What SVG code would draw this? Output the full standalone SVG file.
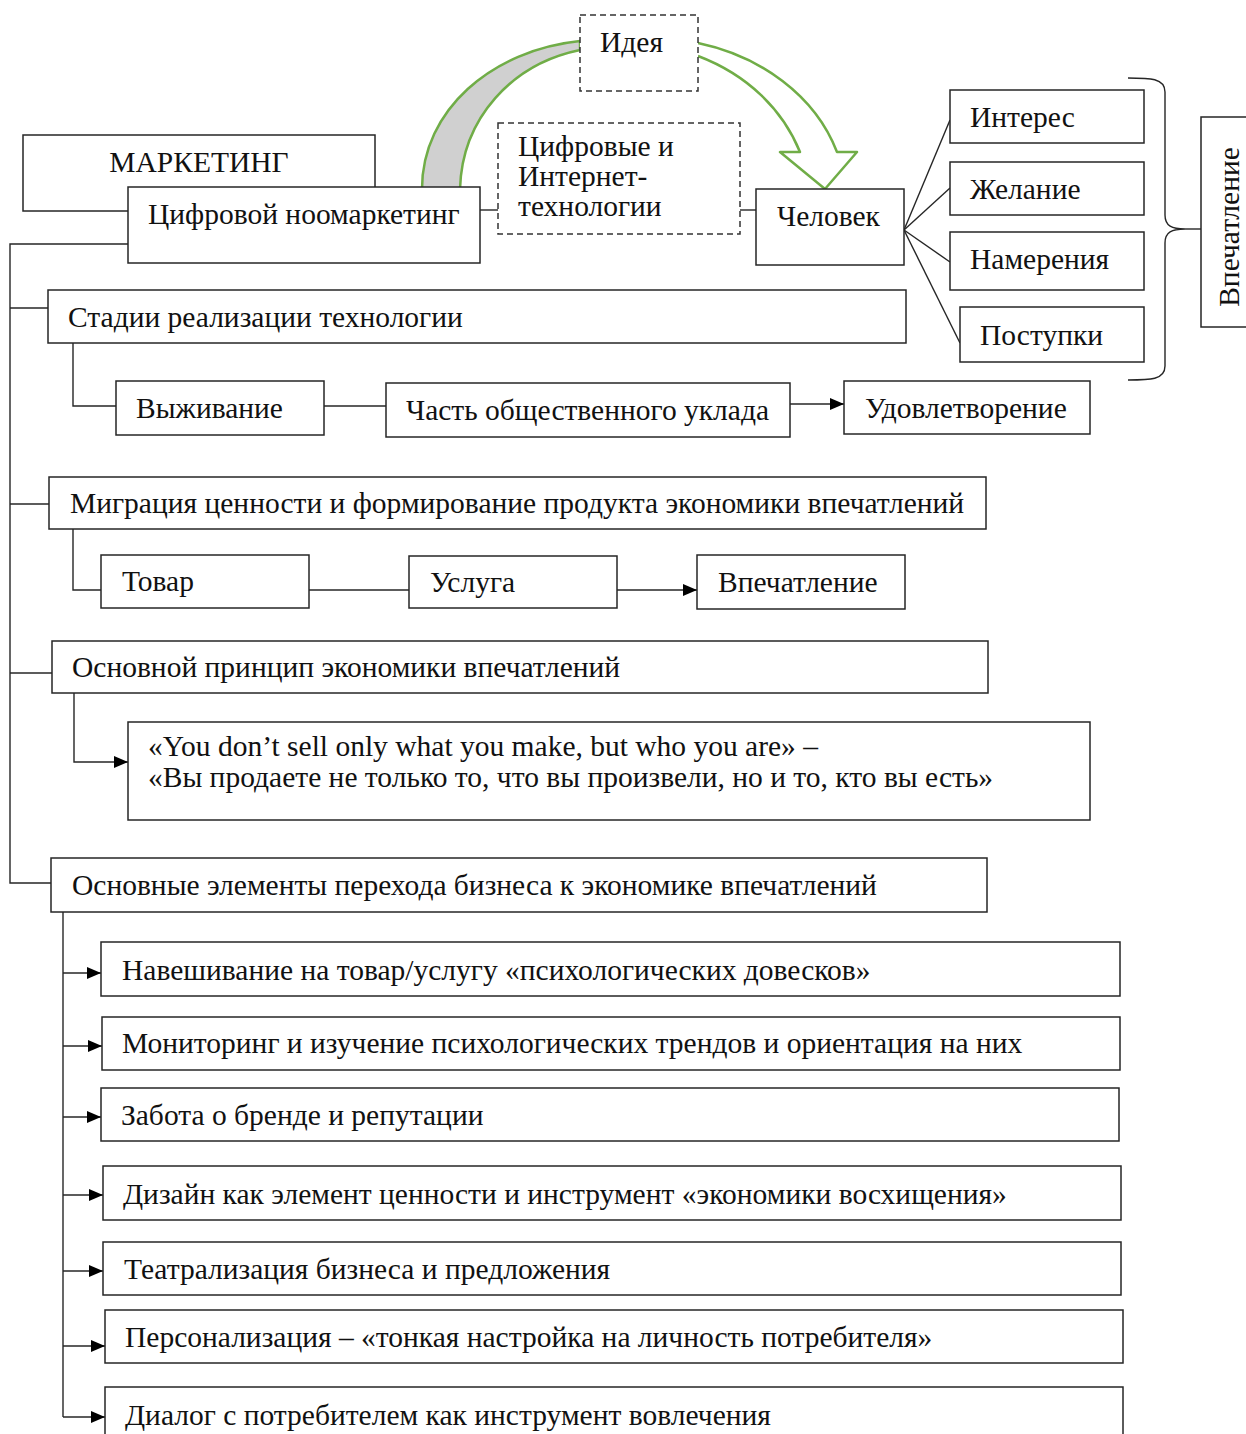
<svg xmlns="http://www.w3.org/2000/svg" width="1246" height="1434" viewBox="0 0 1246 1434">
  <style>
    .box { fill: #ffffff; stroke: #262626; stroke-width: 1.5; }
    .dash { fill: #ffffff; stroke: #333333; stroke-width: 1.5; stroke-dasharray: 6 4; }
    .ln { fill: none; stroke: #262626; stroke-width: 1.4; }
    .arr { fill: none; stroke: #262626; stroke-width: 1.4; marker-end: url(#head); }
    .t { font-family: "Liberation Serif", "Times New Roman", serif; font-size: 29.5px; fill: #111111; }
    .green { stroke: #70ad47; stroke-width: 2.5; stroke-linejoin: round; }
  </style>
  <defs>
    <marker id="head" viewBox="0 0 14 12" refX="14" refY="6" markerWidth="14" markerHeight="12" markerUnits="userSpaceOnUse" orient="auto">
      <path d="M0,0 L14,6 L0,12 z" fill="#000000"/>
    </marker>
  </defs>
  <rect width="1246" height="1434" fill="#ffffff"/>

  <!-- connectors -->
  <g id="connectors">
    <!-- main trunk -->
    <polyline class="ln" points="128,244 10,244 10,883 51,883"/>
    <line class="ln" x1="10" y1="308" x2="48" y2="308"/>
    <line class="ln" x1="10" y1="504" x2="49" y2="504"/>
    <line class="ln" x1="10" y1="673" x2="52" y2="673"/>
    <!-- top row links -->
    <line class="ln" x1="480" y1="210" x2="498" y2="210"/>
    <line class="ln" x1="740" y1="210" x2="756" y2="210"/>
    <!-- fan to motives -->
    <line class="ln" x1="904" y1="230" x2="950" y2="120"/>
    <line class="ln" x1="904" y1="230" x2="950" y2="188"/>
    <line class="ln" x1="904" y1="230" x2="950" y2="262"/>
    <line class="ln" x1="904" y1="230" x2="960" y2="343"/>
    <!-- brace -->
    <path class="ln" d="M1128,78 C1150,78 1165,78 1165,92 L1165,215 C1165,226 1172,229 1185,229 C1172,229 1165,232 1165,243 L1165,366 C1165,380 1150,380 1128,380"/>
    <line class="ln" x1="1185" y1="229" x2="1201" y2="229"/>
    <!-- stages -->
    <polyline class="ln" points="73,343 73,406 116,406"/>
    <line class="ln" x1="324" y1="406" x2="386" y2="406"/>
    <line class="arr" x1="790" y1="404" x2="844" y2="404"/>
    <!-- value migration -->
    <polyline class="ln" points="73,529 73,590 101,590"/>
    <line class="ln" x1="309" y1="590" x2="409" y2="590"/>
    <line class="arr" x1="617" y1="590" x2="697" y2="590"/>
    <!-- principle -->
    <polyline class="arr" points="74,693 74,762 128,762"/>
    <!-- elements -->
    <line class="ln" x1="63" y1="912" x2="63" y2="1417"/>
    <line class="arr" x1="63" y1="973" x2="101" y2="973"/>
    <line class="arr" x1="63" y1="1046" x2="102" y2="1046"/>
    <line class="arr" x1="63" y1="1117" x2="101" y2="1117"/>
    <line class="arr" x1="63" y1="1195" x2="103" y2="1195"/>
    <line class="arr" x1="63" y1="1271" x2="103" y2="1271"/>
    <line class="arr" x1="63" y1="1346" x2="105" y2="1346"/>
    <line class="arr" x1="63" y1="1417" x2="105" y2="1417"/>
  </g>

  <!-- idea flows -->
  <g id="flow-in">
    <path class="green" fill="#d0d0d0" d="M422,189 C422,110 492,50 580,41 L580,50 C512,64 462,118 460,189 Z"/>
  </g>
  <g id="flow-out">
    <path class="green" fill="none" d="M698,43 C760,56 815,95 837,152 L857,152 L825,189 L780,152 L800,152 C783,110 748,75 698,56"/>
  </g>

  <g id="marketing">
    <rect class="box" x="23" y="135" width="352" height="76"/>
    <text class="t" x="199" y="172" text-anchor="middle">МАРКЕТИНГ</text>
  </g>
  <g id="noomarketing">
    <rect class="box" x="128" y="187" width="352" height="76"/>
    <text class="t" x="148" y="224">Цифровой ноомаркетинг</text>
  </g>
  <g id="idea">
    <rect class="dash" x="580" y="15" width="118" height="76"/>
    <text class="t" x="600" y="52">Идея</text>
  </g>
  <g id="digital">
    <rect class="dash" x="498" y="123" width="242" height="111"/>
    <text class="t" x="518" y="156">Цифровые и</text>
    <text class="t" x="518" y="186">Интернет-</text>
    <text class="t" x="518" y="216">технологии</text>
  </g>
  <g id="person">
    <rect class="box" x="756" y="189" width="148" height="76"/>
    <text class="t" x="777" y="226">Человек</text>
  </g>
  <g id="interest">
    <rect class="box" x="950" y="90" width="194" height="53"/>
    <text class="t" x="970" y="127">Интерес</text>
  </g>
  <g id="desire">
    <rect class="box" x="950" y="162" width="194" height="53"/>
    <text class="t" x="970" y="199">Желание</text>
  </g>
  <g id="intention">
    <rect class="box" x="950" y="232" width="194" height="58"/>
    <text class="t" x="970" y="269">Намерения</text>
  </g>
  <g id="actions">
    <rect class="box" x="960" y="307" width="184" height="55"/>
    <text class="t" x="980" y="345">Поступки</text>
  </g>
  <g id="impression-side">
    <rect class="box" x="1201" y="117" width="60" height="210"/>
    <text class="t" x="0" y="0" text-anchor="middle" transform="translate(1239,227) rotate(-90)">Впечатление</text>
  </g>

  <g id="stages">
    <rect class="box" x="48" y="290" width="858" height="53"/>
    <text class="t" x="68" y="327">Стадии реализации технологии</text>
  </g>
  <g id="survival">
    <rect class="box" x="116" y="381" width="208" height="54"/>
    <text class="t" x="136" y="418">Выживание</text>
  </g>
  <g id="social">
    <rect class="box" x="386" y="383" width="404" height="54"/>
    <text class="t" x="406" y="420">Часть общественного уклада</text>
  </g>
  <g id="satisfaction">
    <rect class="box" x="844" y="381" width="246" height="53"/>
    <text class="t" x="865" y="418">Удовлетворение</text>
  </g>

  <g id="migration">
    <rect class="box" x="49" y="477" width="937" height="52"/>
    <text class="t" x="70" y="513">Миграция ценности и формирование продукта экономики впечатлений</text>
  </g>
  <g id="goods">
    <rect class="box" x="101" y="555" width="208" height="53"/>
    <text class="t" x="122" y="591">Товар</text>
  </g>
  <g id="service">
    <rect class="box" x="409" y="556" width="208" height="52"/>
    <text class="t" x="430" y="592">Услуга</text>
  </g>
  <g id="impression">
    <rect class="box" x="697" y="555" width="208" height="54"/>
    <text class="t" x="718" y="592">Впечатление</text>
  </g>

  <g id="principle">
    <rect class="box" x="52" y="641" width="936" height="52"/>
    <text class="t" x="72" y="677">Основной принцип экономики впечатлений</text>
  </g>
  <g id="quote">
    <rect class="box" x="128" y="722" width="962" height="98"/>
    <text class="t" x="148" y="756">«You don’t sell only what you make, but who you are» –</text>
    <text class="t" x="148" y="787">«Вы продаете не только то, что вы произвели, но и то, кто вы есть»</text>
  </g>

  <g id="elements">
    <rect class="box" x="51" y="858" width="936" height="54"/>
    <text class="t" x="72" y="895">Основные элементы перехода бизнеса к экономике впечатлений</text>
  </g>
  <g id="el-1">
    <rect class="box" x="101" y="942" width="1019" height="54"/>
    <text class="t" x="122" y="980">Навешивание на товар/услугу «психологических довесков»</text>
  </g>
  <g id="el-2">
    <rect class="box" x="102" y="1017" width="1018" height="53"/>
    <text class="t" x="122" y="1053">Мониторинг и изучение психологических трендов и ориентация на них</text>
  </g>
  <g id="el-3">
    <rect class="box" x="101" y="1088" width="1018" height="53"/>
    <text class="t" x="121" y="1125">Забота о бренде и репутации</text>
  </g>
  <g id="el-4">
    <rect class="box" x="103" y="1166" width="1018" height="54"/>
    <text class="t" x="123" y="1204">Дизайн как элемент ценности и инструмент «экономики восхищения»</text>
  </g>
  <g id="el-5">
    <rect class="box" x="103" y="1242" width="1018" height="53"/>
    <text class="t" x="124" y="1279">Театрализация бизнеса и предложения</text>
  </g>
  <g id="el-6">
    <rect class="box" x="105" y="1310" width="1018" height="53"/>
    <text class="t" x="125" y="1347">Персонализация – «тонкая настройка на личность потребителя»</text>
  </g>
  <g id="el-7">
    <rect class="box" x="105" y="1387" width="1018" height="60"/>
    <text class="t" x="125" y="1425">Диалог с потребителем как инструмент вовлечения</text>
  </g>
</svg>
